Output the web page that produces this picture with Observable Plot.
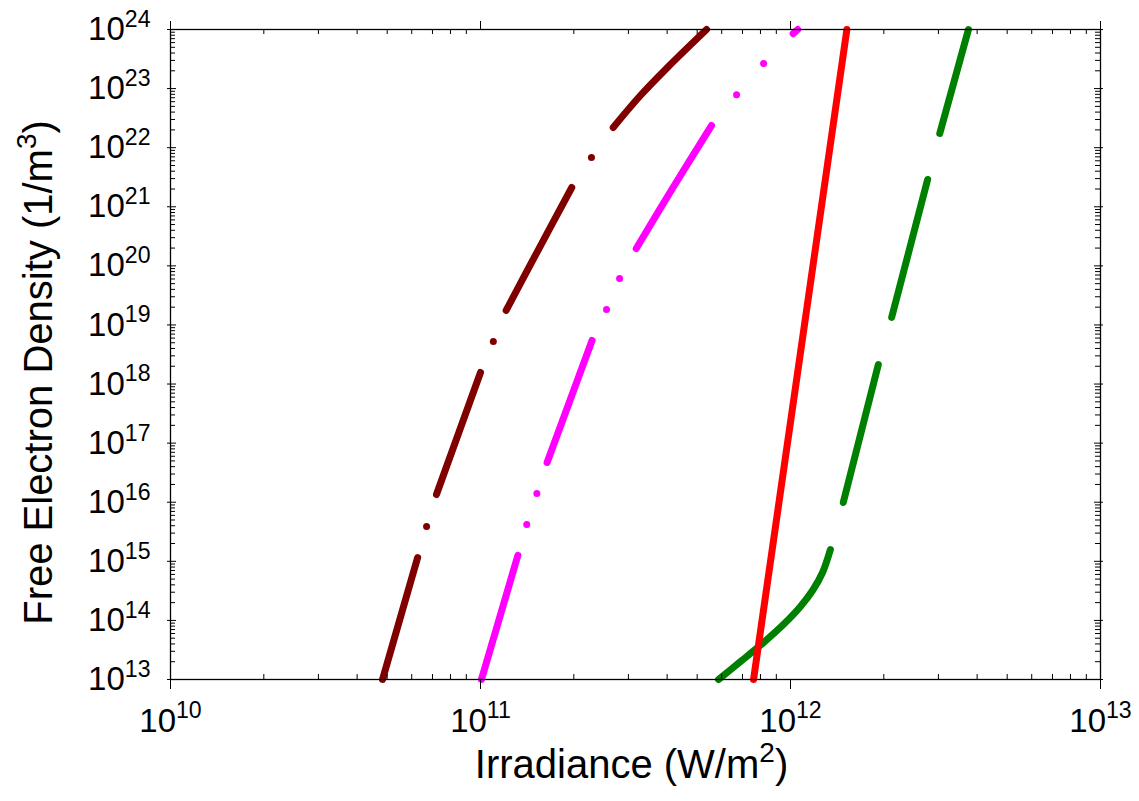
<!DOCTYPE html>
<html><head><meta charset="utf-8">
<script src="https://cdn.jsdelivr.net/npm/d3@7"></script>
<script src="https://cdn.jsdelivr.net/npm/@observablehq/plot@0.6"></script>
<style>body{margin:0;background:#fff}</style>
</head><body><div id="chart"></div>
<script>
// ---- data ----
const xMajor = [1e10, 1e11, 1e12, 1e13];
const xTickLabels = ["10^10", "10^11", "10^12", "10^13"];
const yMajor = [1e13,1e14,1e15,1e16,1e17,1e18,1e19,1e20,1e21,1e22,1e23,1e24];
const yTickLabels = ["10^13","10^14","10^15","10^16","10^17","10^18","10^19","10^20","10^21","10^22","10^23","10^24"];
const xTitle = "Irradiance (W/m^2^)";
const yTitle = "Free Electron Density (1/m^3^)";

// series: each is a list of continuous segments [[x, y], ...] plus isolated points
const maroonSegments = [
  [[4.83e10,1e13],[6.27e10,1.16e15]],
  [[7.21e10,1.35e16],[1.0e11,1.57e18]],
  [[1.21e11,1.76e19],[1.538e11,1.89e20],[1.97e11,2.12e21]],
  [[2.68e11,2.2e22],[3.28e11,7.64e22],[4.01e11,2.28e23],[5.36e11,1e24]]
];
const maroonDots = [[6.70e10,3.9e15],[1.10e11,5.25e18],[2.28e11,6.8e21]];

const magentaSegments = [
  [[1.007e11,1e13],[1.32e11,1.26e15]],
  [[1.64e11,4.7e16],[2.29e11,5.46e18]],
  [[3.18e11,1.97e20],[4.16e11,2.04e21],[5.56e11,2.37e22]],
  [[1.02e12,8.5e23],[1.055e12,1e24]]
];
const magentaDots = [[1.41e11,4.2e15],[1.52e11,1.41e16],[2.55e11,1.83e19],[2.81e11,6.1e19],[6.70e11,7.9e22],[8.19e11,2.66e23]];

const redSegments = [
  [[7.6e11,1e13],[1.52e12,1e24]]
];

const greenSegments = [
  [[5.86e11,1e13],[6.90e11,2.01e13],[8.12e11,4.07e13],[9.56e11,8.85e13],[1.077e12,1.72e14],[1.178e12,3.21e14],[1.269e12,6.47e14],[1.345e12,1.58e15]],
  [[1.48e12,9.9e15],[1.92e12,2.14e18]],
  [[2.12e12,1.34e19],[2.77e12,2.9e21]],
  [[3.03e12,1.74e22],[3.75e12,1e24]]
];

const seriesColors = {maroon: "#800000", magenta: "#ff00ff", red: "#ff0000", green: "#008000"};

// ---- build tables ----
function rows(name, segs) {
  const out = [];
  segs.forEach((s, i) => s.forEach(([x, y]) => out.push({series: name, seg: name + i, x, y})));
  return out;
}
function dotRows(name, pts) { return pts.map(([x, y]) => ({series: name, x, y})); }

const lineData = [
  ...rows("green", greenSegments),
  ...rows("red", redSegments),
  ...rows("maroon", maroonSegments),
  ...rows("magenta", magentaSegments)
];
const dotData = [...dotRows("maroon", maroonDots), ...dotRows("magenta", magentaDots)];

const minorOf = (majors) => {
  const m = [];
  for (let i = 0; i < majors.length - 1; i++) for (let k = 2; k <= 9; k++) m.push(majors[i] * k);
  return m;
};
const xMinor = minorOf(xMajor);
const yMinor = minorOf(yMajor);

const W = 1139, H = 801, mL = 170, mR = 39, mT = 29, mB = 122;
const plotH = H - mT - mB, plotW = W - mL - mR;

const chart = Plot.plot({
  width: W, height: H,
  marginLeft: mL, marginRight: mR, marginTop: mT, marginBottom: mB,
  style: {fontFamily: "'Liberation Sans', Arial, sans-serif", background: "white", color: "black", overflow: "visible"},
  x: {type: "log", domain: [1e10, 1e13], axis: null},
  y: {type: "log", domain: [1e13, 1e24], axis: null},
  color: {domain: Object.keys(seriesColors), range: Object.values(seriesColors)},
  marks: [
    // data
    Plot.line(lineData, {x: "x", y: "y", z: "seg", stroke: "series", strokeWidth: 7, strokeLinecap: "round", strokeLinejoin: "round", curve: "catmull-rom"}),
    Plot.dot(dotData, {x: "x", y: "y", fill: "series", r: 3.5}),
    // frame & ticks
    Plot.frame({stroke: "black", strokeWidth: 1.3}),
    Plot.tickX(xMinor, {x: d => d, insetTop: plotH - 5, stroke: "black"}),
    Plot.tickX(xMinor, {x: d => d, insetBottom: plotH - 5, stroke: "black"}),
    Plot.tickX(xMajor, {x: d => d, insetTop: plotH, insetBottom: -10, stroke: "black"}),
    Plot.tickX(xMajor, {x: d => d, insetBottom: plotH, insetTop: -8, stroke: "black"}),
    Plot.tickY(yMinor, {y: d => d, insetRight: plotW - 5, stroke: "black"}),
    Plot.tickY(yMinor, {y: d => d, insetLeft: plotW - 5, stroke: "black"}),
    Plot.tickY(yMajor, {y: d => d, insetRight: plotW - 6, insetLeft: -3, stroke: "black"}),
    Plot.tickY(yMajor, {y: d => d, insetLeft: plotW - 6, insetRight: -3, stroke: "black"}),
    // tick labels
    Plot.text(xMajor, {x: d => d, text: (d, i) => xTickLabels[i], frameAnchor: "bottom", dy: 52, fontSize: 33, fill: "black"}),
    Plot.text(yMajor, {y: d => d, text: (d, i) => yTickLabels[i], frameAnchor: "left", textAnchor: "end", dx: -20, fontSize: 33, fill: "black"}),
    // titles
    Plot.text([xTitle], {text: d => d, frameAnchor: "bottom", dy: 98, dx: -4, fontSize: 40, fill: "black"}),
    Plot.text([yTitle], {text: d => d, frameAnchor: "left", textAnchor: "middle", rotate: -90, dx: -131, dy: 18, fontSize: 40, fill: "black"})
  ]
});

document.getElementById("chart").append(chart);

// superscripts: "base^sup^rest"
d3.select(chart).selectAll("text").each(function() {
  const t = this.textContent;
  if (!t.includes("^")) return;
  const parts = t.split("^");
  const fs = parseFloat(getComputedStyle(this).fontSize) || 33;
  const el = d3.select(this);
  el.text(null);
  el.append("tspan").text(parts[0]);
  el.append("tspan").attr("font-size", fs * 0.7).attr("dy", -fs * 0.4).text(parts[1]);
  if (parts[2]) el.append("tspan").attr("font-size", fs).attr("dy", fs * 0.4).text(parts[2]);
});
</script>
</body></html>
